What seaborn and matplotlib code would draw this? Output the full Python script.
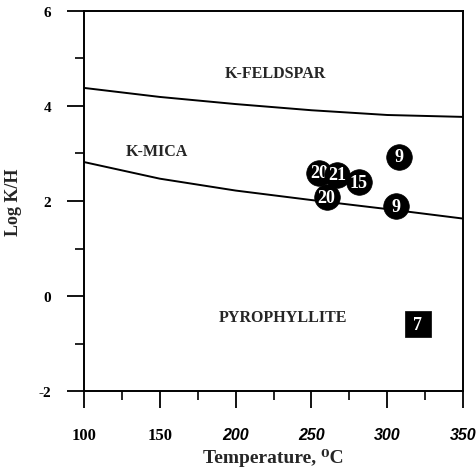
import numpy as np
import pandas as pd
import seaborn as sns
from matplotlib import pyplot as plt
from matplotlib.ticker import MultipleLocator

# boundary curves
temp_curve = [100, 150, 200, 250, 300, 350]
feldspar_mica = [4.38, 4.19, 4.04, 3.91, 3.81, 3.77]
mica_pyroph = [2.82, 2.47, 2.22, 2.02, 1.83, 1.63]

# samples, in drawing order (later ones sit on top)
circ_temp = [308, 306, 260, 255, 267, 281]
circ_logk = [2.93, 1.89, 2.08, 2.59, 2.55, 2.40]
circ_label = ["9", "9", "20", "20", "21", "15"]
sq_temp = [320]
sq_logk = [-0.59]
sq_label = ["7"]

field_names = ["K-FELDSPAR", "K-MICA", "PYROPHYLLITE"]
field_temp = [226, 148, 231]
field_logk = [4.69, 3.05, -0.44]

xticks = [100, 150, 200, 250, 300, 350]
yticks = [-2, 0, 2, 4, 6]

sns.set_theme(style="ticks")
plt.rcParams["font.family"] = ["Liberation Serif", "DejaVu Serif"]
plt.rcParams["axes.unicode_minus"] = False

fig = plt.figure(figsize=(4.77, 4.77), dpi=100)
ax = fig.add_axes([0.176, 0.178, 0.795, 0.797])

curves = pd.DataFrame({
    "T": temp_curve * 2,
    "logK": feldspar_mica + mica_pyroph,
    "line": ["upper"] * 6 + ["lower"] * 6,
})
sns.lineplot(data=curves, x="T", y="logK", units="line", estimator=None,
             color="black", lw=1.4, ax=ax, legend=False)

circ = pd.DataFrame({"T": circ_temp, "logK": circ_logk, "lab": circ_label})
sq = pd.DataFrame({"T": sq_temp, "logK": sq_logk, "lab": sq_label})

z = 3
for df, mk in ((circ, "o"), (sq, "s")):
    for i in range(len(df)):
        row = df.iloc[[i]]
        sns.scatterplot(data=row, x="T", y="logK", marker=mk, s=340, color="black",
                        edgecolor="black", linewidth=0.5, ax=ax, legend=False,
                        zorder=z)
        ax.text(row["T"].iloc[0], row["logK"].iloc[0], row["lab"].iloc[0],
                color="white", fontsize=13, fontweight="bold",
                ha="center", va="center", zorder=z + 0.5)
        z += 1

for name, t, k in zip(field_names, field_temp, field_logk):
    ax.text(t, k, name, fontsize=11.5, fontweight="bold", ha="center", va="center")

ax.set_xlim(100, 350)
ax.set_ylim(-2, 6)
ax.set_xticks(xticks)
ax.set_yticks(yticks)
ax.xaxis.set_minor_locator(MultipleLocator(25))
ax.yaxis.set_minor_locator(MultipleLocator(1))
ax.tick_params(which="major", direction="out", length=12.5, width=1.3, colors="black")
ax.tick_params(which="minor", direction="out", length=6.5, width=1.2, colors="black")
ax.tick_params(axis="x", which="major", pad=13)
ax.tick_params(axis="y", which="major", pad=11)

for lab in ax.get_xticklabels():
    lab.set_fontweight("bold")
    lab.set_fontsize(12)
    if lab.get_text() not in ("100", "150"):
        lab.set_family(["Liberation Sans", "DejaVu Sans"])
        lab.set_style("italic")
        lab.set_fontsize(11.5)
for lab in ax.get_yticklabels():
    lab.set_fontweight("bold")
    lab.set_fontsize(11)

for sp in ax.spines.values():
    sp.set_linewidth(1.4)
    sp.set_color("black")

ax.set_xlabel("Temperature, \u2070C", fontsize=14, fontweight="bold", labelpad=4)
ax.set_ylabel("Log K/H", fontsize=13, fontweight="bold", labelpad=12)

plt.savefig("out.png", dpi=100)
